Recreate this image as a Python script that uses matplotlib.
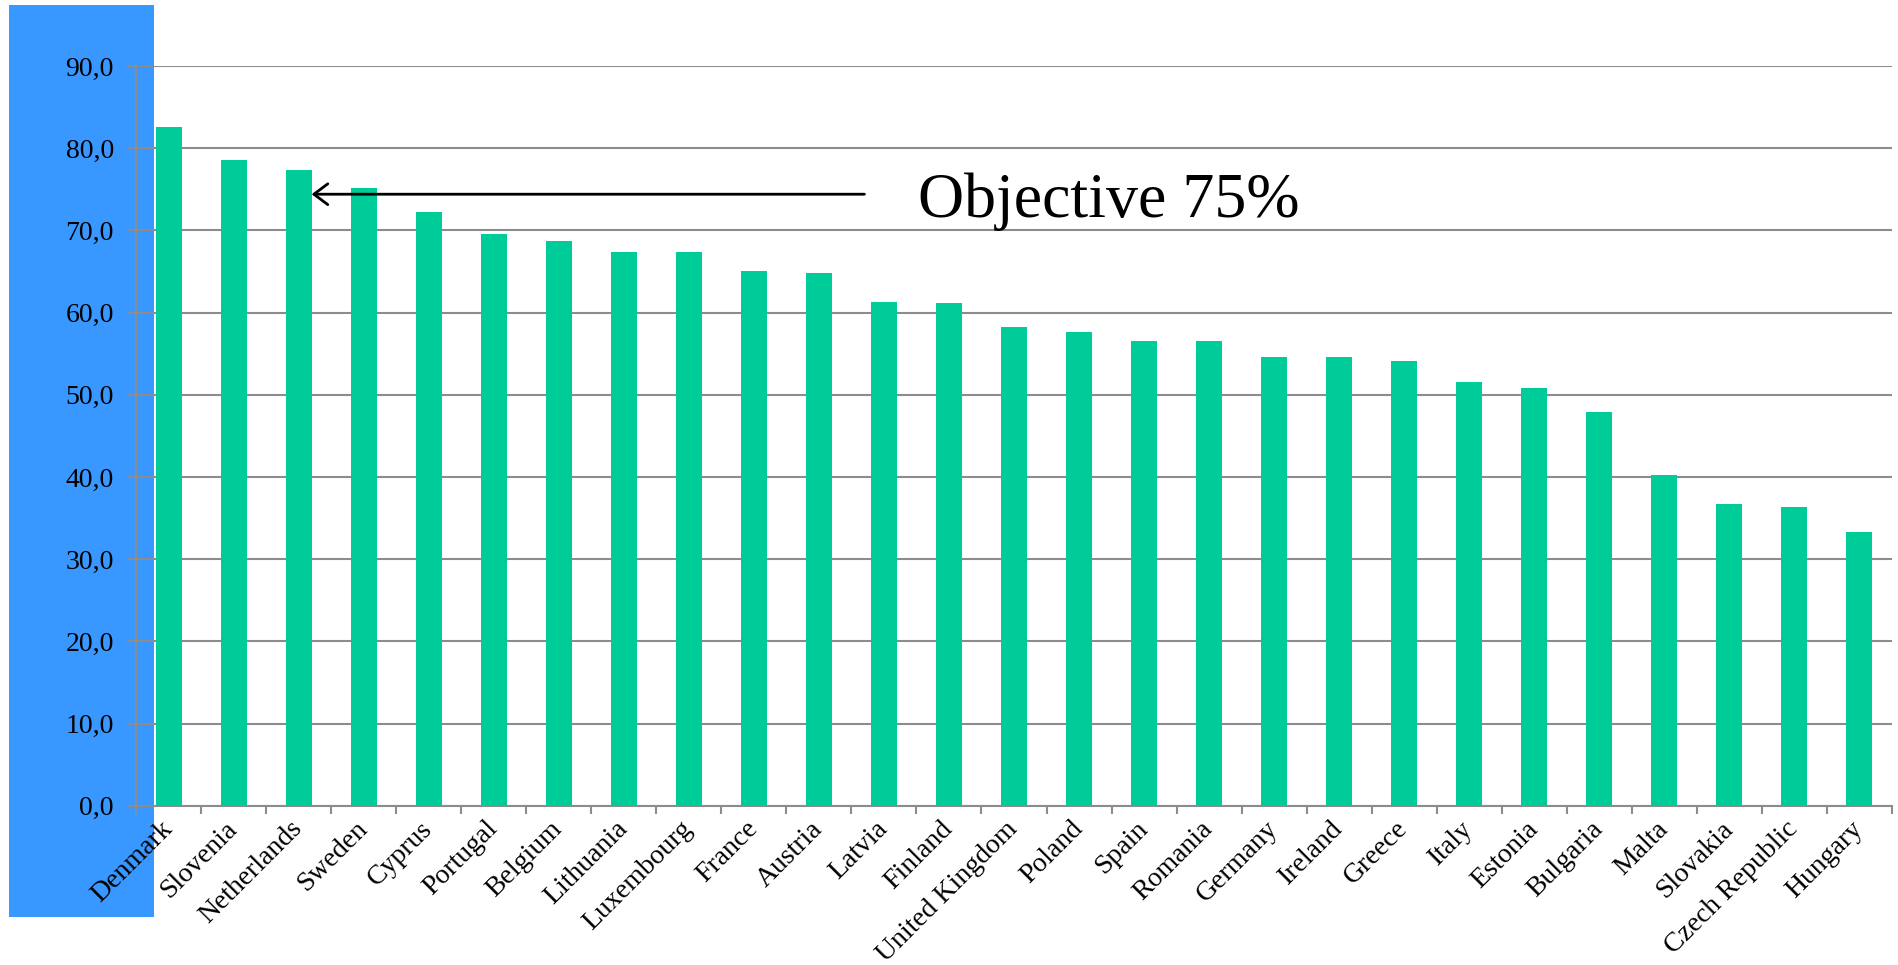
import matplotlib
matplotlib.use("Agg")
import matplotlib.pyplot as plt
from matplotlib.patches import Rectangle
from matplotlib.ticker import FuncFormatter, FixedLocator, NullFormatter
import numpy as np

countries = ["Denmark", "Slovenia", "Netherlands", "Sweden", "Cyprus", "Portugal",
             "Belgium", "Lithuania", "Luxembourg", "France", "Austria", "Latvia",
             "Finland", "United Kingdom", "Poland", "Spain", "Romania", "Germany",
             "Ireland", "Greece", "Italy", "Estonia", "Bulgaria", "Malta",
             "Slovakia", "Czech Republic", "Hungary"]
values = [82.6, 78.6, 77.3, 75.2, 72.2, 69.6, 68.7, 67.4, 67.4, 65.1, 64.8, 61.3,
          61.2, 58.2, 57.6, 56.6, 56.5, 54.6, 54.6, 54.1, 51.5, 50.8, 47.9, 40.2,
          36.7, 36.3, 33.3]
yticks = [0, 10, 20, 30, 40, 50, 60, 70, 80, 90]
objective_label = "Objective 75%"

W, H, DPI = 1898, 965, 100
fig = plt.figure(figsize=(W / DPI, H / DPI), dpi=DPI)
fig.patch.set_facecolor("white")

# blue band on the left (behind the axes)
fig.patches.append(Rectangle((9 / W, 1 - 917 / H), 145 / W, 912 / H,
                             transform=fig.transFigure, facecolor="#3898FF",
                             edgecolor="none", zorder=0))

ax = fig.add_axes([136 / W, 1 - 805.7 / H, (1892 - 136) / W, (805.7 - 66) / H])
ax.set_facecolor("none")
ax.set_zorder(1)

x = np.arange(len(countries))
ax.bar(x, values, width=0.4, color="#00CC99", edgecolor="none", zorder=3)

gray = "#8C8C8C"
ax.set_xlim(-0.5, len(countries) - 0.5)
ax.set_ylim(0, 90)
ax.set_yticks(yticks)
ax.yaxis.set_major_formatter(FuncFormatter(lambda v, p: f"{v:.1f}".replace(".", ",")))
ax.grid(axis="y", color=gray, linewidth=1.5, zorder=0)
ax.set_axisbelow(True)

for s in ["top", "right"]:
    ax.spines[s].set_visible(False)
for s in ["left", "bottom"]:
    ax.spines[s].set_color(gray)
    ax.spines[s].set_linewidth(1.5)

# x ticks at category boundaries, labels at centres
ax.xaxis.set_major_locator(FixedLocator(np.arange(len(countries) + 1) - 0.5))
ax.xaxis.set_major_formatter(NullFormatter())
ax.xaxis.set_minor_locator(FixedLocator(x))
ax.set_xticklabels(countries, minor=True)
ax.tick_params(axis="x", which="minor", length=0, pad=14)
ax.tick_params(axis="x", which="major", length=6, width=1.5, color=gray, direction="out")
ax.tick_params(axis="y", length=6, width=1.5, color=gray, direction="out", pad=10)

serif = ["Liberation Serif", "DejaVu Serif"]
for lab in ax.get_xticklabels(minor=True):
    lab.set_fontfamily(serif)
    lab.set_fontsize(20)
    lab.set_rotation(45)
    lab.set_ha("right")
    lab.set_va("center")
    lab.set_rotation_mode("anchor")
for lab in ax.get_yticklabels():
    lab.set_fontfamily(serif)
    lab.set_fontsize(20)

ax.annotate("", xy=(2.2, 74.4), xytext=(10.7, 74.4),
            arrowprops=dict(arrowstyle="->,head_length=0.4,head_width=0.3",
                            lw=2, color="black", mutation_scale=25,
                            shrinkA=0, shrinkB=0), zorder=5)
ax.text(11.52, 71.6, objective_label, fontfamily=serif, fontsize=46,
        ha="left", va="baseline", color="black", zorder=5)

fig.savefig("out.png", dpi=DPI)
